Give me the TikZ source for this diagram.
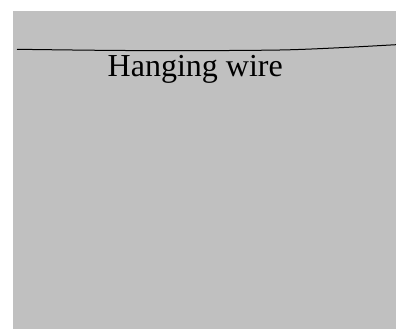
\documentclass[tikz,border=0pt]{standalone}
\usepackage{fontspec}
\setmainfont{Liberation Serif}
\definecolor{panelgray}{RGB}{192,192,192}
\begin{document}
\begin{tikzpicture}[x=1pt,y=-1pt]
        \useasboundingbox (0,0) rectangle (396,329);
        \coordinate (P) at (13, 11) {};
        \coordinate (Q) at (396, 329) {};
        \coordinate (L) at (17, 49.3) {};
        \coordinate (R) at (396, 44.7) {};
        \fill[panelgray] (P) rectangle (Q);
\draw[line width=1pt] plot[smooth] coordinates {(L) (100,50.3) (180,50.7) (280,50) (340,47.7) (R)};
\node[anchor=base west,inner sep=0pt,font=\fontsize{32}{38}\selectfont] (label) at (107.5, 76) {Hanging wire};
\end{tikzpicture}
\end{document}
